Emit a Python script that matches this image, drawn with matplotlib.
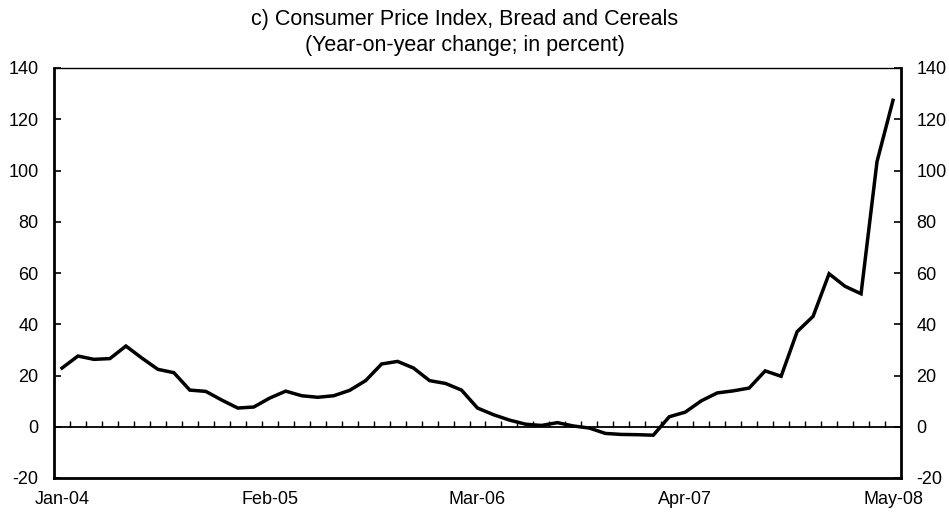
import matplotlib
matplotlib.use("Agg")
import matplotlib.pyplot as plt
import numpy as np

plt.rcParams['font.family'] = ['Liberation Sans', 'DejaVu Sans']

title_line1 = "c) Consumer Price Index, Bread and Cereals"
title_line2 = "(Year-on-year change; in percent)"

# Monthly observations Jan-04 .. May-08 (53 months)
values = [22.9, 27.6, 26.3, 26.6, 31.5, 26.8, 22.4, 21.1, 14.3, 13.8,
          10.4, 7.3, 7.7, 11.2, 13.9, 12.1, 11.5, 12.1, 14.2, 18.0,
          24.5, 25.5, 22.9, 18.0, 16.9, 14.3, 7.3, 4.7, 2.6, 1.0,
          0.5, 1.6, 0.3, -0.5, -2.6, -3.0, -3.1, -3.3, 3.9, 5.7,
          10.1, 13.2, 14.0, 15.1, 21.8, 19.7, 37.1, 43.1, 59.7, 54.8,
          51.9, 103.5, 127.4]
tick_labels = ["Jan-04", "Feb-05", "Mar-06", "Apr-07", "May-08"]
tick_step = 13
y_ticks = [-20, 0, 20, 40, 60, 80, 100, 120, 140]

fig = plt.figure(figsize=(9.49, 5.18), dpi=100)
ax = fig.add_axes([54/949, 40/518, (901-54)/949, (478-68)/518])

x = np.arange(len(values))
ax.plot(x, values, color='black', lw=2.5, solid_joinstyle='miter', zorder=3)

ax.set_xlim(-0.5, len(values) - 0.5)
ax.set_ylim(-20, 140)

# zero line with monthly tick marks
ax.axhline(0, color='black', lw=1.3, zorder=2)
bounds = np.arange(len(values) - 1) + 0.5
ax.vlines(bounds, 0, 2.4, color='black', lw=1.0, zorder=2)

ax.set_xticks(x[::tick_step])
ax.set_xticklabels(tick_labels, fontsize=13)
ax.tick_params(axis='x', length=0, pad=9)

ax.set_yticks(y_ticks)
ax.set_yticklabels([str(v) for v in y_ticks], fontsize=13)
ax.tick_params(axis='y', direction='in', length=5, width=1.2, pad=11,
               left=True, right=True, labelleft=True, labelright=True)

for s in ['left', 'right', 'bottom']:
    ax.spines[s].set_linewidth(2.0)
ax.spines['top'].set_linewidth(1.0)

fig.text(465/949, 1 - 20/518, title_line1, ha='center', va='center', fontsize=15.5)
fig.text(465/949, 1 - 46/518, title_line2, ha='center', va='center', fontsize=15.5)

fig.savefig("out.png", dpi=100)
